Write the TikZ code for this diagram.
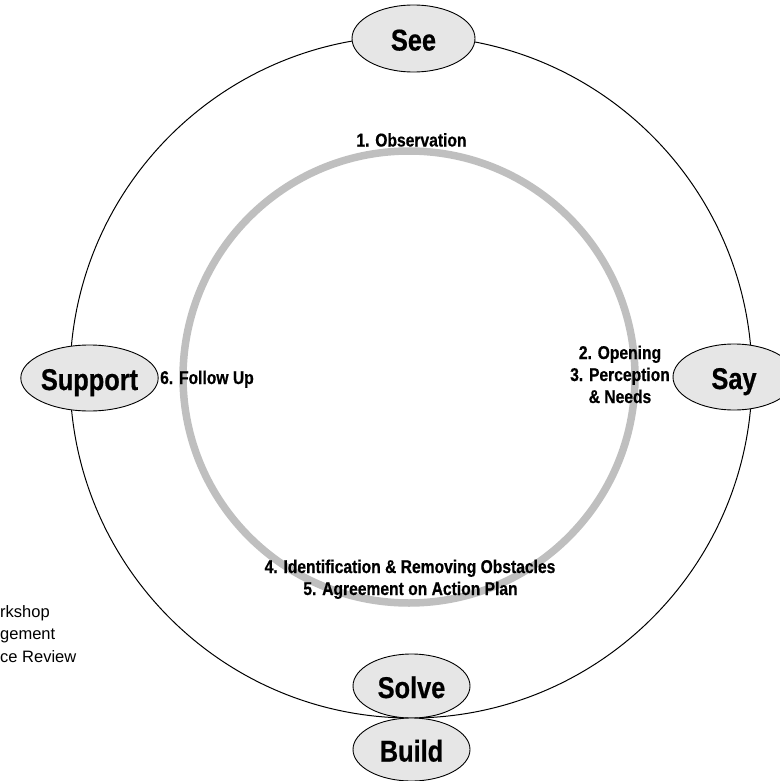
\documentclass[tikz,border=0pt]{standalone}
\usepackage{fontspec}
\setmainfont{Liberation Sans}
\newfontfamily\condbf[FakeStretch=0.845,FakeBold=0.6]{Liberation Sans Bold}
\usetikzlibrary{shapes.geometric}
\definecolor{stagefill}{HTML}{E6E6E6}
\definecolor{ringgray}{HTML}{BFBFBF}
\begin{document}
\begin{tikzpicture}[x=1pt,y=-1pt,
  stage/.style={ellipse, draw=black, line width=0.9pt, fill=stagefill,
    inner sep=0pt, minimum width=119pt, minimum height=65pt,
    text height=24pt, text depth=0pt,
    font=\condbf\fontsize{30}{32}\selectfont},
  steplabel/.style={anchor=base, inner sep=0pt,
    font=\condbf\fontsize{18.5}{22}\selectfont},
  legendline/.style={anchor=base west, inner sep=0pt,
    font=\fontsize{16.5}{22}\selectfont}]
  \useasboundingbox (0,0) rectangle (779,781);

  % outer cycle and inner process ring
  \draw[line width=1pt] (411,377) circle[radius=341];
  \draw[ringgray, line width=7.5pt] (409,377) circle[radius=226];

  % stages on the outer cycle
  \node[stage, minimum width=123pt, minimum height=67pt] (see) at (413.5,38.5) {See};
  \node[stage, minimum width=122pt, minimum height=66pt] (say) at (734,377) {Say};
  \node[stage, minimum width=116pt, minimum height=66pt] (support) at (89.5,378) {Support};
  \node[stage, minimum width=117pt, minimum height=64pt] (solve) at (411.5,686) {Solve};
  \node[stage, minimum width=117pt, minimum height=63pt] (build) at (411.5,749.5) {Build};

  % process steps
  \node[steplabel] (s1) at (411.5,146.5) {1. Observation};
  \node[steplabel] (s2) at (620,359) {2. Opening};
  \node[steplabel] (s3) at (620,381) {3. Perception};
  \node[steplabel] (s3b) at (620,403) {\& Needs};
  \node[steplabel] (s4) at (410,573) {4. Identification \& Removing Obstacles};
  \node[steplabel] (s5) at (410.5,595) {5. Agreement on Action Plan};
  \node[steplabel, anchor=base west] (s6) at (160,384) {6. Follow Up};

  % legend fragments at the left edge
  \node[legendline] (l1) at (0,617) {rkshop};
  \node[legendline] (l2) at (0,639.5) {gement};
  \node[legendline] (l3) at (0,662) {ce Review};
\end{tikzpicture}
\end{document}
